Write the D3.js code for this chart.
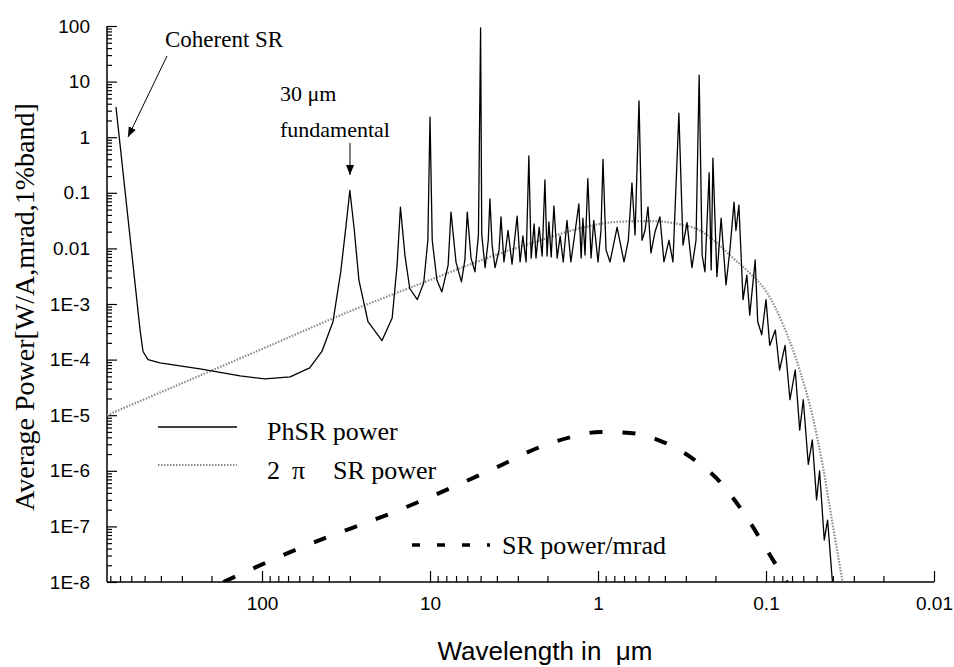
<!DOCTYPE html>
<html>
<head>
<meta charset="utf-8">
<script src="https://cdn.jsdelivr.net/npm/d3@7"></script>
<style>
body { margin: 0; background: #fff; }
svg { display: block; }
</style>
</head>
<body>
<svg id="chart"></svg>
<script>
var width = 954;
var height = 667;

// [wavelength in um, average power]
var phsrPoints = [
    [740, 3.5], [532, 3.4e-4], [511, 1.4e-4], [477, 1.0e-4], [405, 8.7e-5], [234, 6.8e-5],
    [135, 5.1e-5], [96, 4.5e-5], [68, 4.9e-5], [52, 7.1e-5], [44, 1.4e-4], [37.8, 4.8e-4],
    [34, 3.8e-3], [31.6, 0.026], [30, 0.11], [28.3, 0.023], [26.5, 2.7e-3], [23.4, 4.8e-4],
    [19.3, 2.2e-4], [16.8, 5.6e-4], [15.7, 5e-3], [15, 0.055], [14.1, 7.5e-3], [13.2, 1.9e-3],
    [11.9, 1.2e-3], [10.9, 2.4e-3], [10.3, 0.014], [10, 2.3], [9.7, 0.014], [9.1, 2.7e-3],
    [8.5, 1.65e-3], [7.8, 5e-3], [7.5, 0.045], [7.0, 5.6e-3], [6.5, 2.5e-3], [6.2, 6.2e-3],
    [6.0, 0.045], [5.7, 6.7e-3], [5.4, 3.8e-3], [5.15, 0.0175], [5.0, 92], [4.92, 0.0175],
    [4.7, 4.5e-3], [4.5, 0.014], [4.4, 0.078], [4.27, 0.0115], [4.1, 4.5e-3], [3.88, 9.4e-3],
    [3.78, 0.037], [3.63, 5.7e-3], [3.43, 0.021], [3.25, 5.2e-3], [3.03, 0.038], [2.91, 5.7e-3],
    [2.8, 0.0167], [2.68, 5.7e-3], [2.58, 0.46], [2.5, 6.7e-3], [2.4, 0.0275], [2.34, 6.7e-3],
    [2.24, 0.024], [2.15, 7.3e-3], [2.07, 0.17], [2.01, 7.3e-3], [1.96, 0.03], [1.9, 7e-3],
    [1.83, 0.058], [1.75, 6.7e-3], [1.68, 0.0167], [1.61, 5.7e-3], [1.53, 0.032], [1.45, 5.7e-3],
    [1.37, 0.0197], [1.3, 0.063], [1.26, 6.7e-3], [1.23, 0.035], [1.195, 7.6e-3], [1.15, 0.18],
    [1.1, 6.7e-3], [1.06, 0.032], [1.0, 5.7e-3], [0.96, 0.021], [0.934, 0.4], [0.896, 9.4e-3],
    [0.848, 5.7e-3], [0.77, 0.024], [0.70, 5.7e-3], [0.66, 0.014], [0.628, 0.15], [0.602, 0.0175],
    [0.57, 4.5], [0.547, 0.014], [0.525, 0.021], [0.504, 0.056], [0.484, 8.3e-3], [0.458, 0.0197],
    [0.428, 0.037], [0.405, 5.7e-3], [0.378, 0.014], [0.358, 5.7e-3], [0.33, 2.7], [0.312, 0.0115],
    [0.295, 0.029], [0.276, 4.5e-3], [0.261, 0.014], [0.25, 13], [0.24, 7.6e-3], [0.231, 3.8e-3],
    [0.218, 0.23], [0.212, 4.1e-3], [0.207, 0.42], [0.196, 3.1e-3], [0.185, 0.035], [0.173, 2.2e-3],
    [0.164, 9.4e-3], [0.155, 0.068], [0.151, 0.021], [0.145, 0.06], [0.137, 1.2e-3], [0.13, 3.3e-3],
    [0.125, 6.3e-4], [0.116, 6.2e-3], [0.112, 4.8e-4], [0.106, 2.8e-4], [0.1, 1.2e-3], [0.095, 1.8e-4],
    [0.088, 3.4e-4], [0.083, 6.5e-5], [0.077, 1.8e-4], [0.072, 1.9e-5], [0.067, 6.5e-5], [0.063, 5.4e-6],
    [0.06, 1.9e-5], [0.056, 1.3e-6], [0.053, 3.6e-6], [0.05, 3e-7], [0.048, 1.0e-6], [0.045, 5.7e-8],
    [0.043, 1.3e-7], [0.04, 8e-9]
];

var srPoints = [
    [837, 1e-5], [100, 1.55e-4], [30, 7.4e-4], [10, 2.7e-3], [4.58, 6.7e-3], [2.2, 0.014],
    [1.28, 0.023], [0.77, 0.03], [0.49, 0.031], [0.325, 0.027], [0.247, 0.021], [0.196, 0.0125],
    [0.157, 6.7e-3], [0.125, 3.6e-3], [0.0986, 1.6e-3], [0.079, 4.2e-4], [0.063, 6.5e-5],
    [0.053, 1e-5], [0.046, 1.26e-6], [0.0405, 1.3e-7], [0.035, 1e-8]
];

var srMradPoints = [
    [170, 1e-8], [59.4, 4.1e-8], [15.1, 2e-7], [4.1, 1.12e-6], [2.2, 2.7e-6], [1.47, 4e-6],
    [0.97, 5e-6], [0.645, 4.8e-6], [0.43, 3.5e-6], [0.284, 1.8e-6], [0.188, 6.3e-7],
    [0.133, 1.6e-7], [0.095, 3.1e-8], [0.072, 8e-9]
];

var xMajor = [100, 10, 1, 0.1, 0.01];
var xLabels = ["100", "10", "1", "0.1", "0.01"];
var yMajor = [100, 10, 1, 0.1, 0.01, 1e-3, 1e-4, 1e-5, 1e-6, 1e-7, 1e-8];
var yLabels = ["100", "10", "1", "0.1", "0.01", "1E-3", "1E-4", "1E-5", "1E-6", "1E-7", "1E-8"];

var x = d3.scaleLog().domain([837, 0.01]).range([107, 934]);
var y = d3.scaleLog().domain([1e-8, 100]).range([582, 26]);

var svg = d3.select('#chart')
    .attr('width', width)
    .attr('height', height)
    .style('font-family', '"Liberation Sans", Arial, sans-serif');

svg.append('rect').attr('width', width).attr('height', height).attr('fill', '#fff');

svg.append('clipPath').attr('id', 'plot')
    .append('rect').attr('x', 107).attr('y', 0).attr('width', 827).attr('height', 582);

// minor ticks
var xMinor = [];
for (var e = -2; e < 3; e++) {
    for (var m = 2; m < 10; m++) {
        var v = m * Math.pow(10, e);
        if (v < 837) xMinor.push(v);
    }
}
var yMinor = [];
for (var e2 = -8; e2 < 2; e2++) {
    for (var m2 = 2; m2 < 10; m2++) yMinor.push(m2 * Math.pow(10, e2));
}

var gx = svg.append('g').attr('transform', 'translate(0,582)');
gx.call(d3.axisBottom(x).tickValues(xMinor).tickSizeInner(-6).tickSizeOuter(0).tickFormat(''));
gx.call(g => g.select('.domain').remove());
var gx2 = svg.append('g').attr('transform', 'translate(0,582)');
gx2.call(d3.axisBottom(x).tickValues(xMajor).tickSizeInner(-11).tickSizeOuter(0)
    .tickPadding(15).tickFormat((d, i) => xLabels[i]));
gx2.select('.domain').attr('d', 'M107,0H934').attr('stroke-width', 1.5);
gx2.selectAll('text').attr('font-size', 19).attr('font-family', '"Liberation Sans", Arial, sans-serif');

var gy = svg.append('g').attr('transform', 'translate(107,0)');
gy.call(d3.axisLeft(y).tickValues(yMinor).tickSizeInner(-5).tickSizeOuter(0).tickFormat(''));
gy.call(g => g.select('.domain').remove());
var gy2 = svg.append('g').attr('transform', 'translate(107,0)');
gy2.call(d3.axisLeft(y).tickValues(yMajor).tickSizeInner(-10).tickSizeOuter(0)
    .tickPadding(17).tickFormat((d, i) => yLabels[i]));
gy2.select('.domain').attr('d', 'M0,26V582').attr('stroke-width', 1.5);
gy2.selectAll('text').attr('font-size', 19).attr('font-family', '"Liberation Sans", Arial, sans-serif');
svg.selectAll('.tick line').attr('stroke-width', 1.2);

var line = d3.line().x(d => x(d[0])).y(d => y(d[1]));
var curve = d3.line().x(d => x(d[0])).y(d => y(d[1])).curve(d3.curveMonotoneX);

var plot = svg.append('g').attr('clip-path', 'url(#plot)');

plot.append('path').datum(srPoints)
    .attr('d', curve)
    .attr('fill', 'none')
    .attr('stroke', '#8a8a8a')
    .attr('stroke-width', 2.2)
    .attr('stroke-dasharray', '1.5,1.5');

plot.append('path').datum(srMradPoints)
    .attr('d', curve)
    .attr('fill', 'none')
    .attr('stroke', '#000')
    .attr('stroke-width', 4)
    .attr('stroke-dasharray', '13,20');

plot.append('path').datum(phsrPoints)
    .attr('d', line)
    .attr('fill', 'none')
    .attr('stroke', '#000')
    .attr('stroke-width', 1.3)
    .attr('stroke-linejoin', 'round');

// legend
var serif = '"Liberation Serif", "Times New Roman", serif';
svg.append('line').attr('x1', 158).attr('x2', 237).attr('y1', 427).attr('y2', 427)
    .attr('stroke', '#000').attr('stroke-width', 1.3);
svg.append('text').attr('x', 267).attr('y', 440).attr('font-size', 26)
    .attr('font-family', serif).text('PhSR power');
svg.append('line').attr('x1', 158).attr('x2', 237).attr('y1', 465).attr('y2', 465)
    .attr('stroke', '#8a8a8a').attr('stroke-width', 2.2).attr('stroke-dasharray', '1.5,1.5');
var lg2 = svg.append('text').attr('y', 479).attr('font-size', 26).attr('font-family', serif);
lg2.append('tspan').attr('x', 267).text('2');
lg2.append('tspan').attr('x', 292).text('π');
lg2.append('tspan').attr('x', 333).text('SR power');
svg.append('line').attr('x1', 412).attr('x2', 490).attr('y1', 545).attr('y2', 545)
    .attr('stroke', '#000').attr('stroke-width', 3.5).attr('stroke-dasharray', '8,17');
svg.append('text').attr('x', 502).attr('y', 554).attr('font-size', 26)
    .attr('font-family', serif).text('SR power/mrad');

// annotations
svg.append('defs').append('marker').attr('id', 'arrow')
    .attr('viewBox', '0 0 10 10').attr('refX', 10).attr('refY', 5)
    .attr('markerWidth', 10).attr('markerHeight', 10).attr('markerUnits', 'userSpaceOnUse')
    .attr('orient', 'auto')
    .append('path').attr('d', 'M0,1L10,5L0,9Z').attr('fill', '#000');

svg.append('text').attr('x', 165).attr('y', 47).attr('font-size', 23)
    .attr('font-family', serif).text('Coherent SR');
svg.append('line').attr('x1', 167).attr('y1', 56).attr('x2', 128).attr('y2', 137)
    .attr('stroke', '#000').attr('stroke-width', 1).attr('marker-end', 'url(#arrow)');

svg.append('text').attr('x', 280).attr('y', 101).attr('font-size', 22)
    .attr('font-family', serif).attr('xml:space', 'preserve').text('30 μm');
svg.append('text').attr('x', 280).attr('y', 137).attr('font-size', 22)
    .attr('font-family', serif).text('fundamental');
svg.append('line').attr('x1', 350).attr('y1', 143).attr('x2', 350).attr('y2', 175)
    .attr('stroke', '#000').attr('stroke-width', 1).attr('marker-end', 'url(#arrow)');

// axis titles
svg.append('text').attr('x', 545).attr('y', 660).attr('text-anchor', 'middle')
    .attr('font-size', 26).attr('xml:space', 'preserve').text('Wavelength in  μm');
svg.append('text').attr('transform', 'translate(34,307) rotate(-90)')
    .attr('text-anchor', 'middle').attr('font-size', 28).attr('font-family', serif)
    .text('Average Power[W/A,mrad,1%band]');
</script>
</body>
</html>
